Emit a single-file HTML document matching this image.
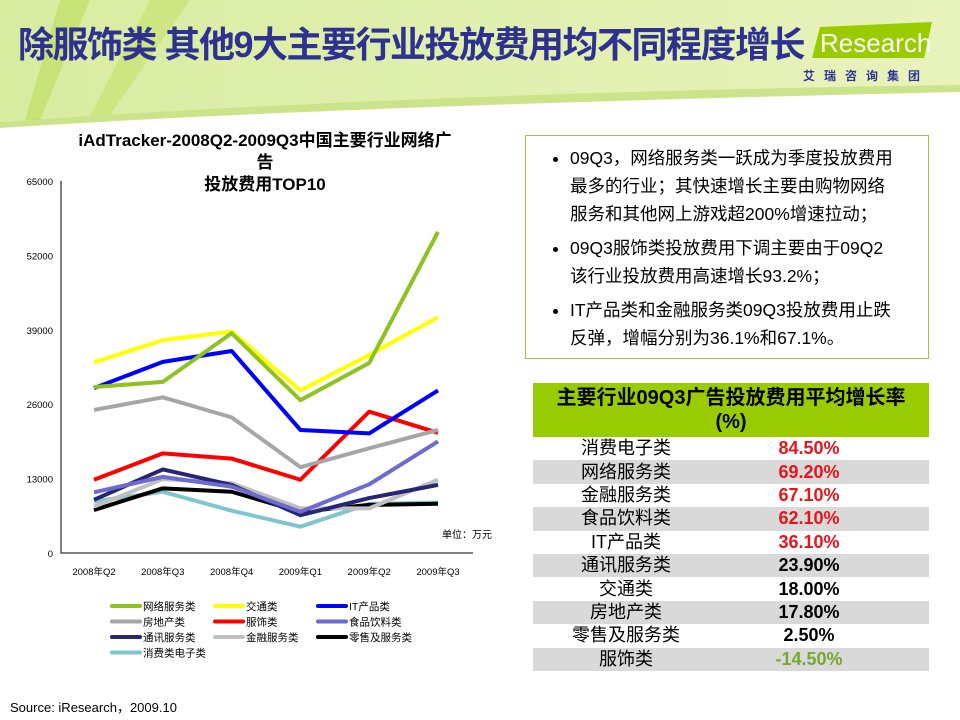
<!DOCTYPE html>
<html><head><meta charset="utf-8">
<style>
body{margin:0;width:960px;height:720px;overflow:hidden;background:#fff;font-family:"Liberation Sans","Noto Sans CJK SC",sans-serif;position:relative}
.abs{position:absolute}
#title{left:18px;top:16px;font-size:36px;font-weight:bold;color:#2e3192;letter-spacing:-1.5px;white-space:nowrap}
#bullets{left:525px;top:135px;width:404px;height:224px;border:1px solid #99cc33;box-sizing:border-box;font-size:17.5px;line-height:28px;color:#000}
#bullets ul{margin:8px 0 0 0;padding:0 28px 0 44px}
#bullets li{margin-bottom:6px}
table{border-collapse:collapse;position:absolute;left:533px;top:383px;width:396px}
th{background:#99cc00;font-size:20px;font-weight:bold;height:54px;line-height:24px;padding:0}
td{height:23.4px;padding:0;font-size:18px;line-height:23px;text-align:center}
tr.g td{background:#d9d9d9}
td.v{font-weight:bold;width:180px;padding-right:30px}
.r{color:#e8141b}.k{color:#000}.gr{color:#77a82e}
</style></head><body>
<svg class="abs" style="left:0;top:0" width="960" height="140">
<defs><linearGradient id="hg" x1="0" y1="0" x2="1" y2="0"><stop offset="0" stop-color="#d8eca0"/><stop offset="1" stop-color="#e8f3bc"/></linearGradient></defs>
<path d="M0 0H960V85 C700 88 300 100 0 122Z" fill="url(#hg)"/>
<path d="M60 0 L90 0 L40 120 L25 120Z" fill="#b5d84a" opacity="0.5"/>
<path d="M150 0 L190 0 L110 115 L90 116Z" fill="#c2e060" opacity="0.5"/>
<path d="M0 122 C300 100 700 88 960 85 L960 92 C700 98 300 108 0 128Z" fill="#a8d23a" opacity="0.6"/>
</svg>
<div id="title" class="abs">除服饰类 其他9大主要行业投放费用均不同程度增长</div>
<svg class="abs" style="left:812px;top:22px" width="120" height="40"><polygon points="8,5 120,0 112,36 0,36" fill="#99cc00"/><text x="8" y="30" font-size="26" fill="#fff" font-family="Liberation Sans">Research</text></svg>
<div class="abs" style="left:803px;top:67px;font-size:12px;color:#2e3192;letter-spacing:9px;font-weight:bold">艾瑞咨询集团</div>

<svg class="abs" id="chart" style="left:0;top:120px" width="510" height="550"></svg>

<div id="bullets" class="abs"><ul>
<li>09Q3，网络服务类一跃成为季度投放费用最多的行业；其快速增长主要由购物网络服务和其他网上游戏超200%增速拉动；</li>
<li>09Q3服饰类投放费用下调主要由于09Q2该行业投放费用高速增长93.2%；</li>
<li>IT产品类和金融服务类09Q3投放费用止跌反弹，增幅分别为36.1%和67.1%。</li></ul></div>

<table>
<tr><th colspan="2">主要行业09Q3广告投放费用平均增长率<br>(%)</th></tr>
<tr><td>消费电子类</td><td class="v r">84.50%</td></tr>
<tr class="g"><td>网络服务类</td><td class="v r">69.20%</td></tr>
<tr><td>金融服务类</td><td class="v r">67.10%</td></tr>
<tr class="g"><td>食品饮料类</td><td class="v r">62.10%</td></tr>
<tr><td>IT产品类</td><td class="v r">36.10%</td></tr>
<tr class="g"><td>通讯服务类</td><td class="v k">23.90%</td></tr>
<tr><td>交通类</td><td class="v k">18.00%</td></tr>
<tr class="g"><td>房地产类</td><td class="v k">17.80%</td></tr>
<tr><td>零售及服务类</td><td class="v k">2.50%</td></tr>
<tr class="g"><td>服饰类</td><td class="v gr">-14.50%</td></tr>
</table>
<div class="abs" style="left:10px;top:697px;font-size:13px">Source: iResearch，2009.10</div>

<script>
const categories=["2008年Q2","2008年Q3","2008年Q4","2009年Q1","2009年Q2","2009年Q3"];
const yTicks=[0,13000,26000,39000,52000,65000];
const seriesNames=["网络服务类","交通类","IT产品类","房地产类","服饰类","食品饮料类","通讯服务类","金融服务类","零售及服务类","消费类电子类"];
const seriesColors=["#8dc21f","#ffff00","#0000ff","#a6a6a6","#ff0000","#6b6bd0","#262673","#c0c0c0","#000000","#7fc6cc"];
const sNetwork=[29000,29900,38400,26700,33200,56100];
const sTransport=[33300,37200,38700,28400,34600,41200];
const sIT=[28800,33400,35300,21500,20900,28400];
const sRealEstate=[25000,27200,23700,15000,18300,21500];
const sApparel=[12800,17400,16500,12800,24700,21000];
const sFood=[10600,13300,11600,7200,12000,19500];
const sTelecom=[9300,14600,11900,6600,9600,11900];
const sFinance=[8100,12900,12200,7800,7800,12800];
const sRetail=[7500,11300,10700,7200,8400,8600];
const sElectronics=[9000,10700,7400,4600,8600,8800];
const allSeries=[sNetwork,sTransport,sIT,sRealEstate,sApparel,sFood,sTelecom,sFinance,sRetail,sElectronics];
const NS="http://www.w3.org/2000/svg";
const svg=document.getElementById('chart');
const X0=61,X1=473,Y0=433,Y1=61;
const xPos=i=>94+i*68.8;
const yPos=v=>Y0-(v/65000)*(Y0-Y1);
function mk(t,a,txt){const e=document.createElementNS(NS,t);for(const k in a)e.setAttribute(k,a[k]);if(txt!==undefined)e.textContent=txt;svg.appendChild(e);return e;}
let t=mk('text',{x:265,y:26,'text-anchor':'middle','font-size':17,'font-weight':'bold'},'iAdTracker-2008Q2-2009Q3中国主要行业网络广');


mk('text',{x:265,y:48,'text-anchor':'middle','font-size':17,'font-weight':'bold'},'告');
mk('text',{x:265,y:70,'text-anchor':'middle','font-size':17,'font-weight':'bold'},'投放费用TOP10');
let ax=mk('path',{d:`M${X0} ${Y1}V${Y0}H${X1}`,stroke:'#000',fill:'none','stroke-width':1});


yTicks.forEach(v=>{const e=mk('text',{x:53,y:yPos(v)+4,'text-anchor':'end','font-size':9.5},String(v));

});
categories.forEach((c,i)=>{const e=mk('text',{x:xPos(i),y:455,'text-anchor':'middle','font-size':9.5},c);

});
const u=mk('text',{x:492,y:418,'text-anchor':'end','font-size':10},'单位：万元');


for(let s=allSeries.length-1;s>=0;s--){
 const d=allSeries[s].map((v,i)=>(i?'L':'M')+xPos(i)+' '+yPos(v)).join('');
 const p=mk('path',{d:d,stroke:seriesColors[s],fill:'none','stroke-width':4,'stroke-linejoin':'round'});
 
 
}
const lx=[112,215,318];
seriesNames.forEach((n,i)=>{const c=i%3,r=Math.floor(i/3);const x=lx[c],y=486+r*15.5;
 const l=mk('line',{x1:x,y1:y,x2:x+28,y2:y,stroke:seriesColors[i],'stroke-width':4,'stroke-linecap':'round'});
 
 
 const tx=mk('text',{x:x+31,y:y+4,'font-size':10.5},n);
 
 
});
</script>
</body></html>
